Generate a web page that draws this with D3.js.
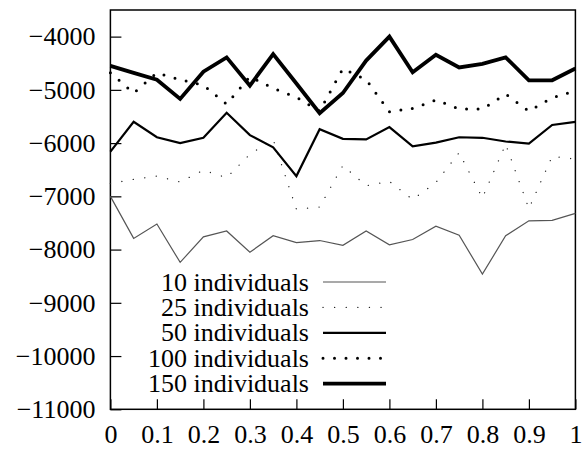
<!DOCTYPE html>
<html>
<head>
<meta charset="utf-8">
<script src="https://cdn.jsdelivr.net/npm/d3@7"></script>
<style>
  body { margin: 0; background: #fff; }
</style>
</head>
<body>
<div id="chart"></div>
<script>
// Data
const xValues = [0, 0.05, 0.1, 0.15, 0.2, 0.25, 0.3, 0.35, 0.4, 0.45, 0.5,
                 0.55, 0.6, 0.65, 0.7, 0.75, 0.8, 0.85, 0.9, 0.95, 1];

const ind10 = [-7000, -7790, -7520, -8240, -7760, -7650, -8050, -7740, -7870, -7830, -7920,
               -7650, -7910, -7810, -7560, -7730, -8460, -7740, -7460, -7450, -7320];
const ind25 = [-6760, -6680, -6620, -6730, -6510, -6650, -6210, -5930, -7240, -7200, -6420,
               -6800, -6720, -7060, -6740, -6180, -7030, -6020, -7230, -6250, -6300];
const ind50 = [-6160, -5600, -5890, -6000, -5900, -5430, -5850, -6080, -6620, -5740, -5920,
               -5930, -5700, -6060, -5990, -5890, -5900, -5970, -6010, -5660, -5600];
const ind100 = [-4680, -5060, -4680, -4810, -4910, -5270, -4750, -4970, -5140, -5400, -4600,
                -4810, -5410, -5350, -5190, -5360, -5360, -5080, -5400, -5150, -5020];
const ind150 = [-4550, -4680, -4810, -5170, -4660, -4390, -4920, -4330, -4880, -5440, -5060,
                -4450, -4000, -4670, -4340, -4580, -4510, -4390, -4820, -4820, -4600];

const seriesNames = ["10 individuals", "25 individuals", "50 individuals", "100 individuals", "150 individuals"];
const xTicks = [0, 0.1, 0.2, 0.3, 0.4, 0.5, 0.6, 0.7, 0.8, 0.9, 1];
const yTicks = [-11000, -10000, -9000, -8000, -7000, -6000, -5000, -4000];

const width = 584, height = 450;
const margin = {left: 110.4, right: 8.6, top: 10, bottom: 40.7};
const font = "'Liberation Serif', 'Times New Roman', serif";

// line styles per series
const styles = [
  {stroke: "#555", width: 1.2, dash: null, cap: "butt"},
  {stroke: "#222", width: 1.3, dash: "0.1,11.5", cap: "round"},
  {stroke: "#000", width: 2.2, dash: null, cap: "butt"},
  {stroke: "#000", width: 3, dash: "0,11.5", cap: "round"},
  {stroke: "#000", width: 3.8, dash: null, cap: "butt"}
];

const allSeries = [ind10, ind25, ind50, ind100, ind150];

const svg = d3.select("#chart").append("svg")
  .attr("width", width)
  .attr("height", height)
  .attr("font-family", font)
  .attr("font-size", 26);

const x = d3.scaleLinear().domain([0, 1]).range([margin.left, width - margin.right]);
const y = d3.scaleLinear().domain([-11000, -3500]).range([height - margin.bottom, margin.top]);

const fmt = d => d3.format("d")(d).replace("-", "\u2212");

// axes with inward ticks
svg.append("g")
  .attr("transform", `translate(0,${height - margin.bottom})`)
  .call(d3.axisBottom(x).tickValues(xTicks).tickSize(-10).tickPadding(15)
          .tickFormat(d => d === 0 || d === 1 ? d : d3.format(".1f")(d)))
  .attr("font-family", font).attr("font-size", 26)
  .call(g => g.select(".domain").remove())
  .call(g => g.selectAll("line").attr("stroke", "#000").attr("stroke-width", 1.2))
  .call(g => g.selectAll("text").attr("fill", "#000").attr("dy", "0.71em"));

svg.append("g")
  .attr("transform", `translate(${margin.left},0)`)
  .call(d3.axisLeft(y).tickValues(yTicks).tickSize(-11).tickPadding(15).tickFormat(fmt))
  .attr("font-family", font).attr("font-size", 26)
  .call(g => g.select(".domain").remove())
  .call(g => g.selectAll("line").attr("stroke", "#000").attr("stroke-width", 1.2))
  .call(g => g.selectAll("text").attr("fill", "#000"));

// frame
svg.append("rect")
  .attr("x", x(0)).attr("y", y(-3500))
  .attr("width", x(1) - x(0)).attr("height", y(-11000) - y(-3500))
  .attr("fill", "none").attr("stroke", "#000").attr("stroke-width", 1.5);

const line = d3.line()
  .x((d, i) => x(xValues[i]))
  .y(d => y(d));

svg.selectAll(".series")
  .data(allSeries)
  .enter()
  .append("path")
    .attr("class", "series")
    .attr("d", d => line(d))
    .attr("fill", "none")
    .attr("stroke", (d, i) => styles[i].stroke)
    .attr("stroke-width", (d, i) => styles[i].width)
    .attr("stroke-dasharray", (d, i) => styles[i].dash)
    .attr("stroke-linecap", (d, i) => styles[i].cap)
    .attr("stroke-linejoin", "miter");

// legend
const legend = svg.append("g").attr("transform", "translate(0,282)");
seriesNames.forEach((name, i) => {
  const row = legend.append("g").attr("transform", `translate(0,${i * 25.4})`);
  row.append("text")
    .attr("x", 309).attr("y", 0).attr("dy", "0.33em")
    .attr("text-anchor", "end")
    .text(name);
  row.append("line")
    .attr("x1", 323).attr("x2", 386).attr("y1", 0).attr("y2", 0)
    .attr("stroke", styles[i].stroke)
    .attr("stroke-width", styles[i].width)
    .attr("stroke-dasharray", styles[i].dash)
    .attr("stroke-linecap", styles[i].cap);
});
</script>
</body>
</html>
